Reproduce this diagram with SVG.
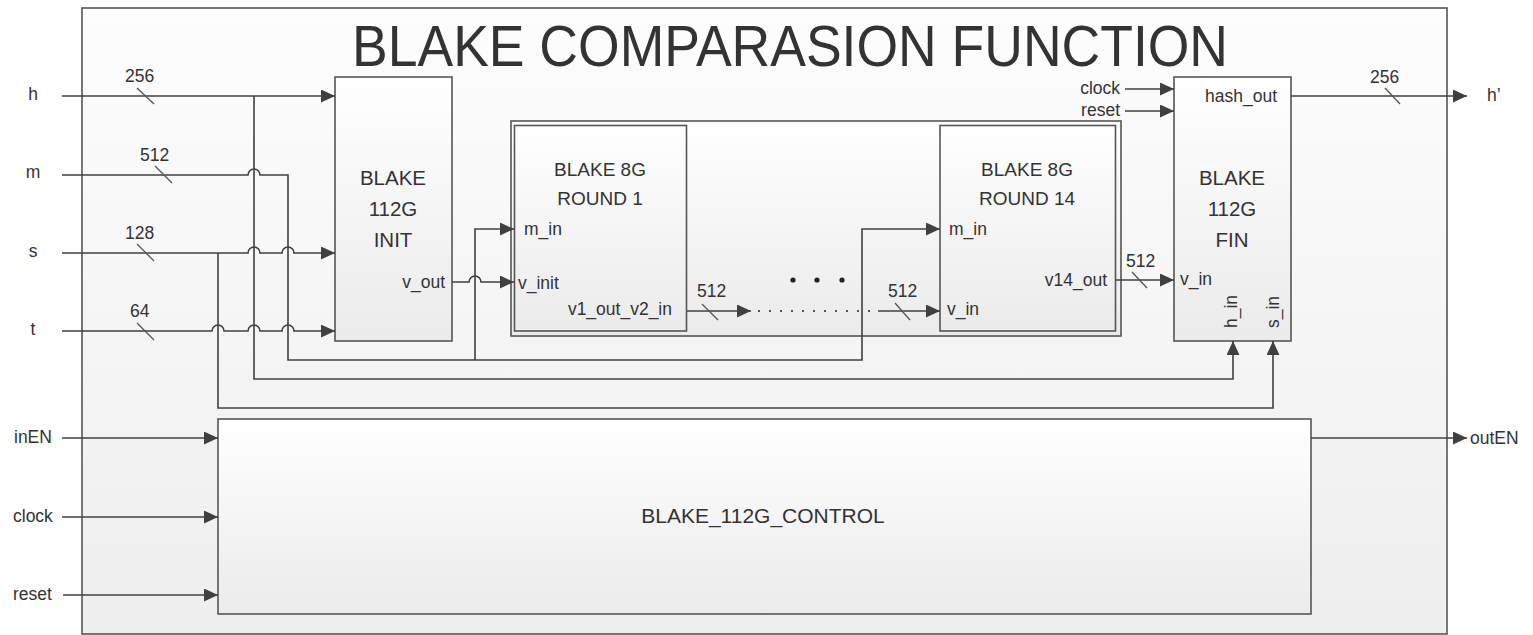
<svg xmlns="http://www.w3.org/2000/svg" width="1533" height="635" viewBox="0 0 1533 635">
<defs>
<linearGradient id="gFrame" x1="0" y1="0" x2="0" y2="1"><stop offset="0" stop-color="#fdfdfd"/><stop offset="1" stop-color="#eeeeee"/></linearGradient>
<linearGradient id="gBox" x1="0" y1="0" x2="0" y2="1"><stop offset="0" stop-color="#ffffff"/><stop offset="1" stop-color="#ebebeb"/></linearGradient>
<marker id="arr" viewBox="0 0 14 13" refX="14" refY="6.5" markerWidth="14" markerHeight="13" markerUnits="userSpaceOnUse" orient="auto"><path d="M0,0 L14,6.5 L0,13 z" fill="#404040"/></marker>
</defs>
<style>
.box{fill:url(#gBox);stroke:#555;stroke-width:1.6}
.frame{fill:url(#gFrame);stroke:#555;stroke-width:1.6}
.w{fill:none;stroke:#404040;stroke-width:1.6}
.a{marker-end:url(#arr)}
.tick{stroke:#555;stroke-width:1.3}
.dots{fill:none;stroke:#555;stroke-width:2;stroke-dasharray:2 9}
text{font-family:"Liberation Sans",Arial,sans-serif;fill:#333}
.s{font-size:17.5px}
.b{font-size:20.5px;text-anchor:middle}
.r{font-size:19px;text-anchor:middle}
.e{text-anchor:end}
.m{text-anchor:middle}
</style>
<g id="frame">
<rect class="frame" x="82" y="8" width="1365" height="626"/>
<text x="790" y="66" font-size="58" text-anchor="middle" textLength="876" lengthAdjust="spacingAndGlyphs" fill="#111">BLAKE COMPARASION FUNCTION</text>
</g>
<g id="inputs">
<text class="s m" x="33" y="100">h</text>
<text class="s m" x="33" y="178">m</text>
<text class="s m" x="33" y="257">s</text>
<text class="s m" x="33" y="335">t</text>
<text class="s" x="14" y="443">inEN</text>
<text class="s" x="13" y="522">clock</text>
<text class="s" x="13" y="600">reset</text>
<text class="s" x="1470" y="444">outEN</text>
<text class="s" x="1487" y="101">h’</text>
</g>
<g id="init">
<rect class="box" x="335" y="77" width="117" height="264"/>
<text class="b" x="393" y="185">BLAKE</text>
<text class="b" x="393" y="216">112G</text>
<text class="b" x="393" y="247">INIT</text>
<text class="s e" x="445" y="288">v_out</text>
</g>
<g id="rounds">
<rect class="box" x="511" y="121" width="610" height="215"/>
</g>
<g id="round1">
<rect class="box" x="514.5" y="125.5" width="172" height="205.5"/>
<text class="r" x="600" y="176">BLAKE 8G</text>
<text class="r" x="600" y="205">ROUND 1</text>
<text class="s" x="524" y="235">m_in</text>
<text class="s" x="518" y="289">v_init</text>
<text class="s e" x="672" y="315">v1_out_v2_in</text>
</g>
<g id="round14">
<rect class="box" x="940" y="125.5" width="175.5" height="205.5"/>
<text class="r" x="1027" y="176">BLAKE 8G</text>
<text class="r" x="1027" y="205">ROUND 14</text>
<text class="s" x="949" y="235">m_in</text>
<text class="s" x="947" y="315">v_in</text>
<text class="s e" x="1107" y="286">v14_out</text>
</g>
<g id="fin">
<rect class="box" x="1174" y="77" width="117" height="264"/>
<text class="b" x="1232" y="185">BLAKE</text>
<text class="b" x="1232" y="216">112G</text>
<text class="b" x="1232" y="247">FIN</text>
<text class="s e" x="1277" y="102">hash_out</text>
<text class="s" x="1180" y="285">v_in</text>
<text class="s" transform="translate(1237,328) rotate(-90)">h_in</text>
<text class="s" transform="translate(1279,328) rotate(-90)">s_in</text>
<text class="s e" x="1120" y="94">clock</text>
<text class="s e" x="1120" y="116">reset</text>
</g>
<g id="control">
<rect class="box" x="218" y="419" width="1093" height="195"/>
<text x="763" y="523" font-size="21" text-anchor="middle">BLAKE_112G_CONTROL</text>
</g>
<g id="connectors">
<path class="w a" d="M62,96 H335"/>
<path class="w a" d="M254,96 V379 H1233 V341"/>
<path class="w a" d="M62,175 H248 A6,6 0 0 1 260,175 H288 V360 H862 V229 H940"/>
<path class="w a" d="M475,360 V229 H514"/>
<path class="w a" d="M62,253 H248 A6,6 0 0 1 260,253 H282 A6,6 0 0 1 294,253 H335"/>
<path class="w a" d="M218,253 V408 H1273 V341"/>
<path class="w a" d="M62,331 H212 A6,6 0 0 1 224,331 H248 A6,6 0 0 1 260,331 H282 A6,6 0 0 1 294,331 H335"/>
<path class="w a" d="M452,282 H469 A6,6 0 0 1 481,282 H514"/>
<path class="w a" d="M687,311 H751"/>
<path class="dots" d="M758,311 H874"/>
<path class="w a" d="M878,311 H940"/>
<path class="w a" d="M1116,280 H1174"/>
<path class="w a" d="M1125,89 H1174"/>
<path class="w a" d="M1125,111 H1174"/>
<path class="w a" d="M1291,96 H1467"/>
<path class="w a" d="M62,438 H218"/>
<path class="w a" d="M62,517 H218"/>
<path class="w a" d="M63,595 H218"/>
<path class="w a" d="M1311,438 H1467"/>
<g class="tick">
<line x1="137" y1="88" x2="154" y2="104"/>
<line x1="155" y1="166" x2="172" y2="183"/>
<line x1="137" y1="244" x2="154" y2="261"/>
<line x1="137" y1="323" x2="154" y2="340"/>
<line x1="702" y1="304" x2="718" y2="320"/>
<line x1="895" y1="303" x2="910" y2="320"/>
<line x1="1132" y1="272" x2="1147" y2="288"/>
<line x1="1385" y1="88" x2="1400" y2="104"/>
</g>
<g class="s">
<text x="125" y="82">256</text>
<text x="140" y="161">512</text>
<text x="125" y="239">128</text>
<text x="130" y="317">64</text>
<text x="697" y="297">512</text>
<text x="888" y="297">512</text>
<text x="1126" y="267">512</text>
<text x="1370" y="83">256</text>
</g>
<g fill="#222">
<circle cx="793" cy="280" r="2.6"/>
<circle cx="817" cy="280" r="2.6"/>
<circle cx="842" cy="280" r="2.6"/>
</g>
</g>
</svg>
